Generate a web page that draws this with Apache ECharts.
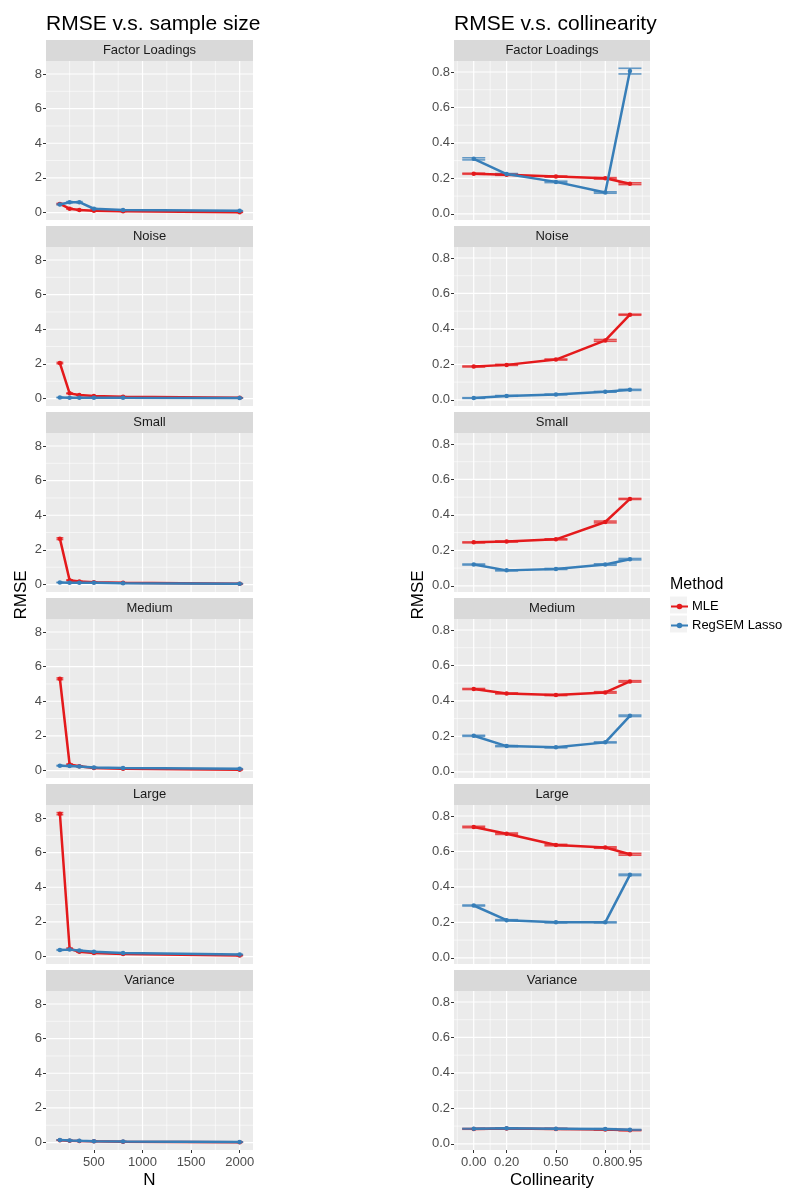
<!DOCTYPE html>
<html>
<head>
<meta charset="utf-8">
<script src="https://cdn.jsdelivr.net/npm/echarts@6/dist/echarts.min.js"></script>
<style>
html,body{margin:0;padding:0;background:#fff;}
#chart{width:800px;height:1203px;}
</style>
</head>
<body>
<div id="chart"></div>
<script>
// ---------- DATA ----------
const panels = ['Factor Loadings', 'Noise', 'Small', 'Medium', 'Large', 'Variance'];
const methods = ['MLE', 'RegSEM Lasso'];

// Left column: RMSE vs sample size N
const sampleN = [150, 250, 350, 500, 800, 2000];
const nTicks = [500, 1000, 1500, 2000];
const nMinorGrid = [250, 750, 1250, 1750];
const rmseTicksN = [0, 2, 4, 6, 8];
const rmseMinorN = [1, 3, 5, 7];

const mleN_FactorLoadings = [0.50, 0.22, 0.15, 0.10, 0.07, 0.02];
const lassoN_FactorLoadings = [0.47, 0.60, 0.60, 0.22, 0.15, 0.10];
const mleN_Noise = [2.05, 0.30, 0.20, 0.15, 0.10, 0.04];
const lassoN_Noise = [0.06, 0.05, 0.05, 0.05, 0.04, 0.03];
const mleN_Small = [2.65, 0.25, 0.18, 0.14, 0.10, 0.04];
const lassoN_Small = [0.12, 0.11, 0.10, 0.10, 0.08, 0.05];
const mleN_Medium = [5.30, 0.35, 0.25, 0.15, 0.10, 0.05];
const lassoN_Medium = [0.28, 0.26, 0.23, 0.18, 0.15, 0.10];
const mleN_Large = [8.25, 0.45, 0.28, 0.20, 0.15, 0.06];
const lassoN_Large = [0.38, 0.40, 0.35, 0.28, 0.20, 0.12];
const mleN_Variance = [0.14, 0.11, 0.09, 0.07, 0.05, 0.02];
const lassoN_Variance = [0.15, 0.12, 0.10, 0.08, 0.06, 0.03];

// standard-error half widths (left)
const errN_mle_FactorLoadings = [0.03, 0.02, 0.02, 0.01, 0.01, 0.01];
const errN_lasso_FactorLoadings = [0.03, 0.03, 0.03, 0.02, 0.01, 0.01];
const errN_mle_Noise = [0.04, 0.02, 0.01, 0.01, 0.01, 0.01];
const errN_lasso_Noise = [0.01, 0.01, 0.01, 0.01, 0.01, 0.01];
const errN_mle_Small = [0.05, 0.02, 0.01, 0.01, 0.01, 0.01];
const errN_lasso_Small = [0.01, 0.01, 0.01, 0.01, 0.01, 0.01];
const errN_mle_Medium = [0.05, 0.03, 0.02, 0.01, 0.01, 0.01];
const errN_lasso_Medium = [0.02, 0.02, 0.01, 0.01, 0.01, 0.01];
const errN_mle_Large = [0.06, 0.04, 0.02, 0.01, 0.01, 0.01];
const errN_lasso_Large = [0.02, 0.02, 0.02, 0.01, 0.01, 0.01];
const errN_mle_Variance = [0.01, 0.01, 0.01, 0.01, 0.01, 0.01];
const errN_lasso_Variance = [0.01, 0.01, 0.01, 0.01, 0.01, 0.01];

// Right column: RMSE vs collinearity
const collinearity = [0.00, 0.20, 0.50, 0.80, 0.95];
const colMinorGrid = [-0.10, 0.10, 0.35, 0.65, 0.875, 1.025];
const rmseTicksC = [0.0, 0.2, 0.4, 0.6, 0.8];
const rmseMinorC = [0.1, 0.3, 0.5, 0.7];

const mleC_FactorLoadings = [0.226, 0.220, 0.210, 0.200, 0.170];
const lassoC_FactorLoadings = [0.310, 0.224, 0.180, 0.120, 0.805];
const mleC_Noise = [0.188, 0.197, 0.227, 0.335, 0.480];
const lassoC_Noise = [0.010, 0.022, 0.030, 0.045, 0.056];
const mleC_Small = [0.245, 0.250, 0.262, 0.360, 0.490];
const lassoC_Small = [0.120, 0.087, 0.095, 0.120, 0.150];
const mleC_Medium = [0.467, 0.442, 0.433, 0.448, 0.510];
const lassoC_Medium = [0.203, 0.145, 0.138, 0.166, 0.316];
const mleC_Large = [0.738, 0.700, 0.636, 0.622, 0.584];
const lassoC_Large = [0.295, 0.212, 0.200, 0.200, 0.468];
const mleC_Variance = [0.084, 0.086, 0.084, 0.080, 0.076];
const lassoC_Variance = [0.085, 0.087, 0.085, 0.083, 0.079];

// standard-error half widths (right)
const errC_mle_FactorLoadings = [0.003, 0.003, 0.003, 0.004, 0.005];
const errC_lasso_FactorLoadings = [0.006, 0.003, 0.004, 0.004, 0.016];
const errC_mle_Noise = [0.003, 0.003, 0.003, 0.005, 0.003];
const errC_lasso_Noise = [0.002, 0.002, 0.002, 0.002, 0.003];
const errC_mle_Small = [0.003, 0.003, 0.003, 0.005, 0.003];
const errC_lasso_Small = [0.003, 0.003, 0.003, 0.004, 0.004];
const errC_mle_Medium = [0.003, 0.003, 0.003, 0.004, 0.004];
const errC_lasso_Medium = [0.003, 0.003, 0.003, 0.003, 0.004];
const errC_mle_Large = [0.004, 0.004, 0.004, 0.004, 0.005];
const errC_lasso_Large = [0.003, 0.003, 0.003, 0.003, 0.004];
const errC_mle_Variance = [0.002, 0.002, 0.002, 0.002, 0.002];
const errC_lasso_Variance = [0.002, 0.002, 0.002, 0.002, 0.002];

const leftMLE = [mleN_FactorLoadings, mleN_Noise, mleN_Small, mleN_Medium, mleN_Large, mleN_Variance];
const leftLasso = [lassoN_FactorLoadings, lassoN_Noise, lassoN_Small, lassoN_Medium, lassoN_Large, lassoN_Variance];
const leftErrMLE = [errN_mle_FactorLoadings, errN_mle_Noise, errN_mle_Small, errN_mle_Medium, errN_mle_Large, errN_mle_Variance];
const leftErrLasso = [errN_lasso_FactorLoadings, errN_lasso_Noise, errN_lasso_Small, errN_lasso_Medium, errN_lasso_Large, errN_lasso_Variance];
const rightMLE = [mleC_FactorLoadings, mleC_Noise, mleC_Small, mleC_Medium, mleC_Large, mleC_Variance];
const rightLasso = [lassoC_FactorLoadings, lassoC_Noise, lassoC_Small, lassoC_Medium, lassoC_Large, lassoC_Variance];
const rightErrMLE = [errC_mle_FactorLoadings, errC_mle_Noise, errC_mle_Small, errC_mle_Medium, errC_mle_Large, errC_mle_Variance];
const rightErrLasso = [errC_lasso_FactorLoadings, errC_lasso_Noise, errC_lasso_Small, errC_lasso_Medium, errC_lasso_Large, errC_lasso_Variance];

// ---------- STYLE / LAYOUT ----------
const RED = '#E41A1C', BLUE = '#377EB8';
const FONT = '"Liberation Sans", Arial, sans-serif';
const PANEL_TOP = 61, PANEL_PITCH = 186, PANEL_H = 159, STRIP_H = 21;
const COLS = [
  {left: 46, width: 207, xMin: 7, xMax: 2137, yMin: -0.43, yMax: 8.75, capHalf: 35,
   x: sampleN, xTicks: nTicks, xMinor: nMinorGrid, yTicks: rmseTicksN, yMinor: rmseMinorN,
   mle: leftMLE, lasso: leftLasso, eMle: leftErrMLE, eLasso: leftErrLasso,
   yFmt: v => String(v), xFmt: v => String(v)},
  {left: 454, width: 196, xMin: -0.12, xMax: 1.072, yMin: -0.035, yMax: 0.862, capHalf: 0.07,
   x: collinearity, xTicks: collinearity, xMinor: colMinorGrid, yTicks: rmseTicksC, yMinor: rmseMinorC,
   mle: rightMLE, lasso: rightLasso, eMle: rightErrMLE, eLasso: rightErrLasso,
   yFmt: v => v.toFixed(1), xFmt: v => v.toFixed(2)}
];

const grids = [], xAxes = [], yAxes = [], series = [], graphics = [];

function gridLineSeries(idx, values, vertical, width) {
  return {
    type: 'custom', xAxisIndex: idx, yAxisIndex: idx, silent: true, z: 1,
    data: values.map(v => [v, 0]),
    renderItem: function (params, api) {
      const cs = params.coordSys;
      const v = api.value(0);
      let shape;
      if (vertical) {
        const px = api.coord([v, 0])[0];
        if (px < cs.x || px > cs.x + cs.width) return null;
        shape = {x1: px, y1: cs.y, x2: px, y2: cs.y + cs.height};
      } else {
        const py = api.coord([0, v])[1];
        if (py < cs.y || py > cs.y + cs.height) return null;
        shape = {x1: cs.x, y1: py, x2: cs.x + cs.width, y2: py};
      }
      return {type: 'line', shape: shape, style: {stroke: '#FFFFFF', lineWidth: width}};
    }
  };
}

function errorBarSeries(idx, xs, ys, errs, color, capHalf) {
  return {
    type: 'custom', name: 'err', xAxisIndex: idx, yAxisIndex: idx, silent: true, z: 3,
    data: xs.map((x, i) => [x, ys[i] - errs[i], ys[i] + errs[i]]),
    encode: {x: 0, y: [1, 2]},
    renderItem: function (params, api) {
      const x = api.value(0), lo = api.value(1), hi = api.value(2);
      const pLo = api.coord([x, lo]), pHi = api.coord([x, hi]);
      const l = api.coord([x - capHalf, lo])[0], r = api.coord([x + capHalf, lo])[0];
      const st = {stroke: color, lineWidth: 1.6, opacity: 0.75};
      return {type: 'group', children: [
        {type: 'line', shape: {x1: pLo[0], y1: pLo[1], x2: pHi[0], y2: pHi[1]}, style: st},
        {type: 'line', shape: {x1: l, y1: pLo[1], x2: r, y2: pLo[1]}, style: st},
        {type: 'line', shape: {x1: l, y1: pHi[1], x2: r, y2: pHi[1]}, style: st}
      ]};
    }
  };
}

function xAxisDef(idx, col, show, ticks) {
  return {type: 'value', gridIndex: idx, min: col.xMin, max: col.xMax, position: 'bottom',
    axisLine: {show: false, onZero: false}, splitLine: {show: false},
    axisTick: {show: show, length: 3, customValues: ticks, lineStyle: {color: '#333333', width: 1}},
    axisLabel: {show: show, customValues: ticks, formatter: col.xFmt, margin: 6,
      fontSize: 13, color: '#4D4D4D', fontFamily: FONT, hideOverlap: false,
      showMinLabel: true, showMaxLabel: true}};
}

COLS.forEach((col, c) => {
  panels.forEach((pname, p) => {
    const idx = c * panels.length + p;
    const top = PANEL_TOP + p * PANEL_PITCH;
    const bottom = p === panels.length - 1;
    grids.push({left: col.left, top: top, width: col.width, height: PANEL_H,
      show: true, backgroundColor: '#EBEBEB', borderWidth: 0});
    // ticks of the right column's bottom axis are split over two axes so that
    // the overlapping "0.80"/"0.95" labels both show, as in the original
    const mainTicks = (c === 1 && bottom) ? col.xTicks.slice(0, -1) : col.xTicks;
    xAxes.push(xAxisDef(idx, col, bottom, mainTicks));
    yAxes.push({type: 'value', gridIndex: idx, min: col.yMin, max: col.yMax,
      axisLine: {show: false, onZero: false}, splitLine: {show: false},
      axisTick: {show: true, length: 3, customValues: col.yTicks, lineStyle: {color: '#333333', width: 1}},
      axisLabel: {show: true, customValues: col.yTicks, formatter: col.yFmt, margin: 4,
        fontSize: 13, color: '#4D4D4D', fontFamily: FONT, showMinLabel: true, showMaxLabel: true}});

    series.push(gridLineSeries(idx, col.xMinor, true, 0.6));
    series.push(gridLineSeries(idx, col.yMinor, false, 0.6));
    series.push(gridLineSeries(idx, col.xTicks, true, 1.2));
    series.push(gridLineSeries(idx, col.yTicks, false, 1.2));

    series.push(errorBarSeries(idx, col.x, col.mle[p], col.eMle[p], RED, col.capHalf));
    series.push({type: 'line', name: 'MLE', xAxisIndex: idx, yAxisIndex: idx, z: 4,
      data: col.x.map((x, i) => [x, col.mle[p][i]]),
      symbol: 'circle', symbolSize: 4.5, showSymbol: true,
      lineStyle: {color: RED, width: 2.5}, itemStyle: {color: RED}});
    series.push(errorBarSeries(idx, col.x, col.lasso[p], col.eLasso[p], BLUE, col.capHalf));
    series.push({type: 'line', name: 'RegSEM Lasso', xAxisIndex: idx, yAxisIndex: idx, z: 5,
      data: col.x.map((x, i) => [x, col.lasso[p][i]]),
      symbol: 'circle', symbolSize: 4.5, showSymbol: true,
      lineStyle: {color: BLUE, width: 2.5}, itemStyle: {color: BLUE}});

    // facet strip
    graphics.push({type: 'rect', left: col.left, top: top - STRIP_H,
      shape: {width: col.width, height: STRIP_H}, style: {fill: '#D9D9D9'}, silent: true});
    graphics.push({type: 'text', x: col.left + col.width / 2, y: top - STRIP_H / 2,
      style: {text: pname, fill: '#1A1A1A', font: '13px ' + FONT, textAlign: 'center', textVerticalAlign: 'middle'},
      silent: true});
  });
});
// extra bottom axis for the last collinearity tick label
xAxes.push(xAxisDef(2 * panels.length - 1, COLS[1], true, COLS[1].xTicks.slice(-1)));

// titles, axis names
graphics.push({type: 'text', x: 46, y: 24, style: {text: 'RMSE v.s. sample size', fill: '#000',
  font: '21px ' + FONT, textAlign: 'left', textVerticalAlign: 'middle'}});
graphics.push({type: 'text', x: 454, y: 24, style: {text: 'RMSE v.s. collinearity', fill: '#000',
  font: '21px ' + FONT, textAlign: 'left', textVerticalAlign: 'middle'}});
graphics.push({type: 'text', x: 149.5, y: 1180, style: {text: 'N', fill: '#000',
  font: '17px ' + FONT, textAlign: 'center', textVerticalAlign: 'middle'}});
graphics.push({type: 'text', x: 552, y: 1180, style: {text: 'Collinearity', fill: '#000',
  font: '17px ' + FONT, textAlign: 'center', textVerticalAlign: 'middle'}});
graphics.push({type: 'text', x: 21, y: 595, rotation: Math.PI / 2, style: {text: 'RMSE', fill: '#000',
  font: '17px ' + FONT, textAlign: 'center', textVerticalAlign: 'middle'}});
graphics.push({type: 'text', x: 418, y: 595, rotation: Math.PI / 2, style: {text: 'RMSE', fill: '#000',
  font: '17px ' + FONT, textAlign: 'center', textVerticalAlign: 'middle'}});

// legend
graphics.push({type: 'text', x: 670, y: 585, style: {text: 'Method', fill: '#000',
  font: '16px ' + FONT, textAlign: 'left', textVerticalAlign: 'middle'}});
graphics.push({type: 'rect', left: 670, top: 596.5, shape: {width: 17, height: 17}, style: {fill: '#F2F2F2'}, z: -1});
graphics.push({type: 'rect', left: 670, top: 615.5, shape: {width: 17, height: 17}, style: {fill: '#F2F2F2'}, z: -1});

const chart = echarts.init(document.getElementById('chart'), null, {renderer: 'canvas'});
chart.setOption({
  animation: false,
  backgroundColor: '#FFFFFF',
  grid: grids, xAxis: xAxes, yAxis: yAxes, series: series,
  legend: {data: methods, orient: 'vertical', left: 670, top: 600, padding: 0,
    itemWidth: 17, itemHeight: 7, itemGap: 6, selectedMode: false,
    textStyle: {fontSize: 13, color: '#000', fontFamily: FONT, padding: [0, 0, 0, -1]}},
  graphic: graphics
});
</script>
</body>
</html>
